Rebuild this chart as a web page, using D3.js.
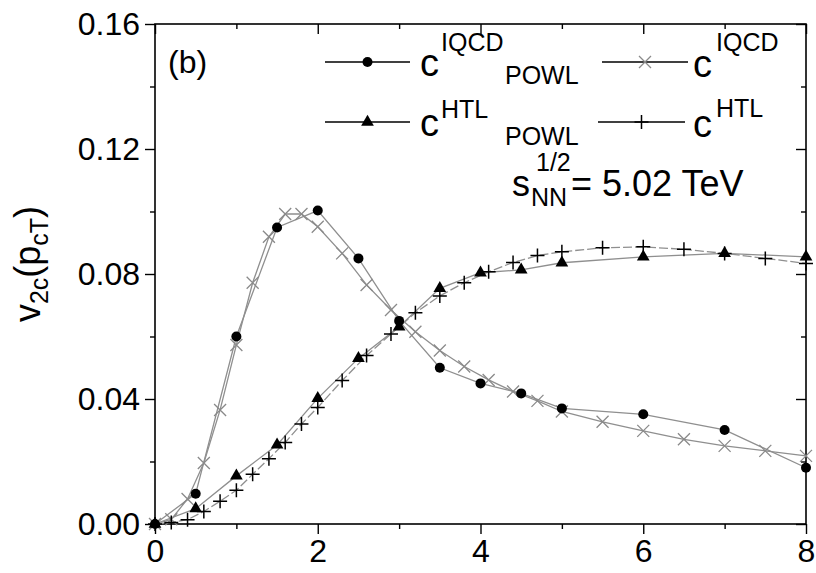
<!DOCTYPE html>
<html><head><meta charset="utf-8">
<script src="https://cdn.jsdelivr.net/npm/d3@7"></script>
<style>
html,body{margin:0;padding:0;background:#fff;}
text{font-family:"Liberation Sans",Arial,sans-serif;fill:#000;}
</style></head>
<body><svg id="c" width="816" height="573"></svg>
<script>
// ---- data ----
const ptPOWL = [0,0.5,1,1.5,2,2.5,3,3.5,4,4.5,5,6,7,8];
const v2cIQCDPOWL = [0,0.0097,0.060,0.0949,0.1003,0.085,0.065,0.050,0.045,0.0418,0.037,0.0351,0.0301,0.018];
const v2cHTLPOWL  = [0,0.0049,0.0154,0.0253,0.0402,0.053,0.0631,0.0754,0.0804,0.0813,0.0836,0.0855,0.0866,0.0855];
const ptFine = [0,0.2,0.4,0.6,0.8,1.0,1.2,1.4,1.6,1.8,2.0,2.3,2.6,2.9,3.2,3.5,3.8,4.1,4.4,4.7,5.0,5.5,6.0,6.5,7.0,7.5,8.0];
const v2cIQCD = [0,0.0015,0.008,0.0195,0.0365,0.0573,0.0772,0.0919,0.0992,0.0992,0.0951,0.0866,0.0765,0.0685,0.0615,0.0555,0.0504,0.0461,0.0424,0.0394,0.036,0.0327,0.0298,0.0271,0.025,0.0234,0.0218];
const v2cHTL  = [0,0.0005,0.0014,0.004,0.0073,0.0108,0.0159,0.0209,0.0261,0.032,0.0373,0.0459,0.0539,0.0608,0.0676,0.073,0.0772,0.0807,0.0837,0.0859,0.0871,0.0884,0.0887,0.0879,0.0866,0.085,0.0834];
const xMajor = [0,2,4,6,8], xMinor = [1,3,5,7];
const yMajor = [0,0.04,0.08,0.12,0.16], yMinor = [0.02,0.06,0.10,0.14];

const svg = d3.select("#c");
const L=155, R=806, T=24, B=524;
const x = d3.scaleLinear().domain([0,8]).range([L,R]);
const y = d3.scaleLinear().domain([0,0.16]).range([B,T]);

// axes
const fmtY = d3.format(".2f");
function ax(gen, tr, vals, size, labels, fmt){
  const g = svg.append("g").attr("transform",tr)
    .call(gen.tickValues(vals).tickSize(size).tickPadding(5).tickFormat(labels?fmt:()=>""));
  g.select(".domain").remove();
  g.selectAll("line").attr("stroke","#000").attr("stroke-width",1.4);
  g.selectAll("text").style("font-size","32px").attr("font-family","Liberation Sans, Arial, sans-serif");
  return g;
}
ax(d3.axisBottom(x), `translate(0,${B})`, xMajor, 10, true, d3.format("d"));
ax(d3.axisBottom(x), `translate(0,${B})`, xMinor, 5, false);
ax(d3.axisTop(x), `translate(0,${T})`, xMajor, -10, false);
ax(d3.axisTop(x), `translate(0,${T})`, xMinor, -5, false);
ax(d3.axisLeft(y), `translate(${L},0)`, yMajor, 10, true, fmtY);
ax(d3.axisLeft(y), `translate(${L},0)`, yMinor, 5, false);
ax(d3.axisRight(y), `translate(${R},0)`, yMajor, -10, false);
ax(d3.axisRight(y), `translate(${R},0)`, yMinor, -5, false);
svg.append("rect").attr("x",L).attr("y",T).attr("width",R-L).attr("height",B-T)
  .attr("fill","none").attr("stroke","#000").attr("stroke-width",1.6);

// series
const line = d3.line().x(d=>x(d[0])).y(d=>y(d[1]));
function series(xs, vs, dash){
  const pts = xs.map((v,i)=>[v,vs[i]]);
  svg.append("path").datum(pts).attr("d",line).attr("fill","none")
    .attr("stroke","#8f8f8f").attr("stroke-width",1.3).attr("stroke-dasharray",dash||null);
  return pts;
}
function drawMarker(g, kind, cx, cy){
  if(kind==="circle") g.append("circle").attr("cx",cx).attr("cy",cy).attr("r",5).attr("fill","#000");
  else if(kind==="tri") g.append("path").attr("d",d3.symbol(d3.symbolTriangle,70)()).attr("transform",`translate(${cx},${cy})`).attr("fill","#000");
  else if(kind==="x") { const s=6; g.append("path").attr("d",`M${cx-s},${cy-s}L${cx+s},${cy+s}M${cx-s},${cy+s}L${cx+s},${cy-s}`).attr("stroke","#8a8a8a").attr("stroke-width",1.3).attr("fill","none"); }
  else if(kind==="plus") { const s=7; g.append("path").attr("d",`M${cx-s},${cy}L${cx+s},${cy}M${cx},${cy-s}L${cx},${cy+s}`).attr("stroke","#000").attr("stroke-width",1.5).attr("fill","none"); }
}
const pIQ = series(ptFine, v2cIQCD);
const pHT = series(ptFine, v2cHTL, "9,3");
const pIQP = series(ptPOWL, v2cIQCDPOWL);
const pHTP = series(ptPOWL, v2cHTLPOWL);
const gm = svg.append("g");
pIQ.forEach(d=>drawMarker(gm,"x",x(d[0]),y(d[1])));
pHT.forEach(d=>drawMarker(gm,"plus",x(d[0]),y(d[1])));
pIQP.forEach(d=>drawMarker(gm,"circle",x(d[0]),y(d[1])));
pHTP.forEach(d=>drawMarker(gm,"tri",x(d[0]),y(d[1])));

// legend
function legLine(x1,x2,yy,kind){
  svg.append("line").attr("x1",x1).attr("x2",x2).attr("y1",yy).attr("y2",yy).attr("stroke","#000").attr("stroke-width",1.3);
  drawMarker(svg,kind,(x1+x2)/2,yy);
}
function txt(s,xx,yy,fs){ svg.append("text").attr("x",xx).attr("y",yy).style("font-size",fs+"px").text(s); }
legLine(325,410,62,"circle");
txt("c",420,76,38); txt("IQCD",441,51,25); txt("POWL",505,84,25);
legLine(602,688,62,"x");
txt("c",693,77,38); txt("IQCD",716,51,25);
legLine(325,410,122,"tri");
txt("c",420,136,38); txt("HTL",441,118,25); txt("POWL",505,145,25);
legLine(598,685,122,"plus");
txt("c",693,137,38); txt("HTL",716,117,25);

txt("(b)",168,73,32);
// energy
txt("s",512,196,36); txt("NN",531,206,25); txt("1/2",536,171,25); txt("= 5.02 TeV",571,196,36);

// y-label
const yl = svg.append("text").attr("transform","translate(40,264) rotate(-90)").attr("text-anchor","middle").style("font-size","36px");
yl.append("tspan").text("v");
yl.append("tspan").attr("dy",8).style("font-size","25px").text("2c");
yl.append("tspan").attr("dy",-8).text("(p");
yl.append("tspan").attr("dy",8).style("font-size","25px").text("cT");
yl.append("tspan").attr("dy",-8).text(")");
</script></body></html>
